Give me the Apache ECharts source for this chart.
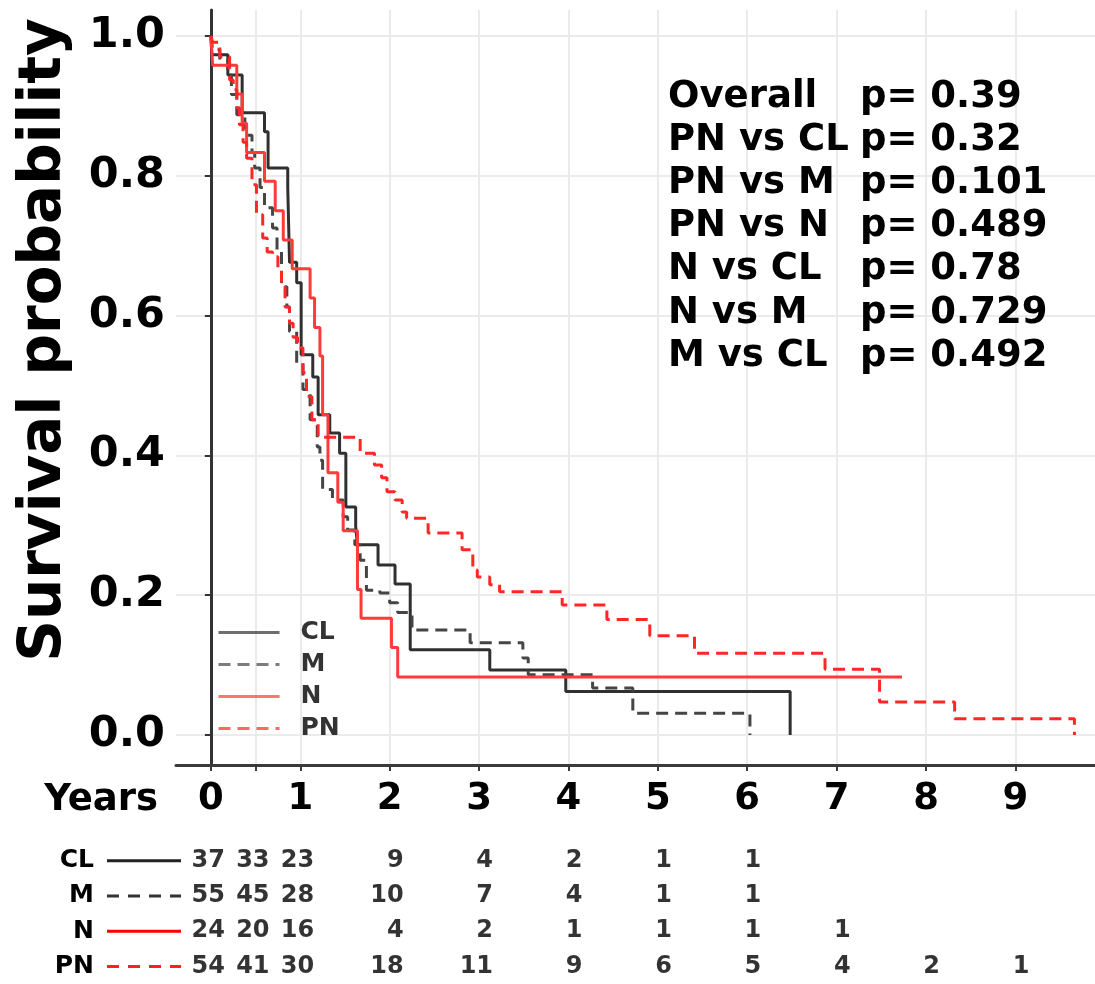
<!DOCTYPE html>
<html>
<head>
<meta charset="utf-8">
<script src="https://cdn.jsdelivr.net/npm/echarts@6/dist/echarts.min.js"></script>
<style>
html, body { margin: 0; padding: 0; background: #fff; }
#chart { width: 1095px; height: 984px; }
</style>
</head>
<body>
<div id="chart"></div>
<script>
// KM step points: time in years, survival after the step
var clTime = [0, 0.01, 0.19, 0.35, 0.60, 0.64, 0.86, 0.88, 0.96, 1.01, 1.14, 1.20, 1.33, 1.44, 1.51, 1.62, 1.64, 1.87, 2.06, 2.23, 3.12, 3.97, 6.48];
var clSurv = [1, 0.973, 0.944, 0.890, 0.863, 0.811, 0.783, 0.676, 0.647, 0.544, 0.512, 0.458, 0.432, 0.403, 0.326, 0.298, 0.272, 0.243, 0.216, 0.122, 0.093, 0.062, 0];

var mTime = [0, 0.02, 0.10, 0.19, 0.23, 0.29, 0.38, 0.46, 0.49, 0.55, 0.60, 0.69, 0.74, 0.79, 0.85, 0.88, 0.96, 1.03, 1.11, 1.19, 1.22, 1.25, 1.36, 1.48, 1.53, 1.61, 1.67, 1.74, 1.89, 2.00, 2.09, 2.25, 2.90, 3.49, 3.55, 4.27, 4.72, 6.03];
var mSurv = [1, 0.980, 0.966, 0.944, 0.916, 0.887, 0.858, 0.833, 0.811, 0.783, 0.754, 0.725, 0.691, 0.641, 0.612, 0.577, 0.532, 0.494, 0.451, 0.412, 0.393, 0.351, 0.336, 0.312, 0.293, 0.272, 0.250, 0.207, 0.203, 0.189, 0.175, 0.150, 0.132, 0.110, 0.086, 0.067, 0.031, 0];

var nTime = [0, 0.02, 0.29, 0.35, 0.40, 0.60, 0.72, 0.81, 0.91, 1.11, 1.16, 1.22, 1.25, 1.31, 1.42, 1.48, 1.64, 1.68, 2.02, 2.09, 7.73];
var nSurv = [1, 0.958, 0.917, 0.875, 0.833, 0.792, 0.750, 0.708, 0.667, 0.625, 0.583, 0.542, 0.458, 0.375, 0.333, 0.292, 0.208, 0.167, 0.125, 0.083, 0.083];

var pnTime = [0, 0.02, 0.10, 0.21, 0.25, 0.29, 0.32, 0.36, 0.40, 0.46, 0.51, 0.58, 0.63, 0.69, 0.75, 0.79, 0.83, 0.88, 0.92, 0.97, 1.03, 1.07, 1.13, 1.20, 1.67, 1.83, 1.91, 1.97, 2.06, 2.14, 2.19, 2.43, 2.81, 2.93, 2.98, 3.12, 3.23, 3.93, 4.43, 4.91, 5.41, 6.87, 7.48, 8.32, 9.66];
var pnSurv = [1, 0.991, 0.970, 0.937, 0.923, 0.897, 0.873, 0.848, 0.825, 0.787, 0.744, 0.711, 0.691, 0.684, 0.665, 0.648, 0.612, 0.589, 0.569, 0.554, 0.518, 0.484, 0.451, 0.426, 0.403, 0.386, 0.368, 0.348, 0.336, 0.319, 0.310, 0.289, 0.265, 0.236, 0.226, 0.215, 0.205, 0.186, 0.165, 0.142, 0.117, 0.094, 0.047, 0.023, 0];

// number at risk table
var riskTimes = [0, 0.5, 1, 2, 3, 4, 5, 6, 7, 8, 9];
var riskCL = [37, 33, 23, 9, 4, 2, 1, 1, null, null, null];
var riskM = [55, 45, 28, 10, 7, 4, 1, 1, null, null, null];
var riskN = [24, 20, 16, 4, 2, 1, 1, 1, 1, null, null];
var riskPN = [54, 41, 30, 18, 11, 9, 6, 5, 4, 2, 1];

var xTicks = [0, 0.5, 1, 2, 3, 4, 5, 6, 7, 8, 9];
var xLabels = [0, 1, 2, 3, 4, 5, 6, 7, 8, 9];
var yTicks = [0, 0.2, 0.4, 0.6, 0.8, 1.0];

var comparisons = ['Overall', 'PN vs CL', 'PN vs M', 'PN vs N', 'N vs CL', 'N vs M', 'M vs CL'];
var pValues = ['0.39', '0.32', '0.101', '0.489', '0.78', '0.729', '0.492'];

var groups = ['CL', 'M', 'N', 'PN'];

var FONT = 'DejaVu Sans';
var colors = { CL: '#303030', M: '#454545', N: '#ff3a3a', PN: '#ff2626' };
var dashed = { CL: false, M: true, N: false, PN: true };
var curves = { CL: [clTime, clSurv], M: [mTime, mSurv], N: [nTime, nSurv], PN: [pnTime, pnSurv] };
var risks = { CL: riskCL, M: riskM, N: riskN, PN: riskPN };

function pairs(t, s) {
  return t.map(function (v, i) { return [v, s[i]]; });
}

var riskData = [];
groups.forEach(function (g) {
  risks[g].forEach(function (v, i) {
    if (v != null) riskData.push([riskTimes[i], g, v]);
  });
});

var xMin = -0.39, xMax = 9.89;

var chart = echarts.init(document.getElementById('chart'));

var series = groups.map(function (g) {
  return {
    name: g,
    type: 'line',
    step: 'end',
    xAxisIndex: 0,
    yAxisIndex: 0,
    symbol: 'none',
    showSymbol: false,
    data: pairs(curves[g][0], curves[g][1]),
    itemStyle: { color: colors[g] },
    lineStyle: { color: colors[g], width: 3, type: dashed[g] ? [12, 7] : 'solid' }
  };
});

series.push({
  name: 'atRisk',
  type: 'scatter',
  xAxisIndex: 1,
  yAxisIndex: 1,
  symbolSize: 0,
  data: riskData,
  label: {
    show: true,
    position: 'inside',
    align: 'right',
    offset: [14, 0],
    formatter: function (p) { return p.value[2]; },
    fontFamily: FONT,
    fontWeight: 'bold',
    fontSize: 24,
    color: '#000'
  }
});

chart.setOption({
  animation: false,
  backgroundColor: '#fff',
  textStyle: { fontFamily: FONT },
  grid: [
    { left: 176, right: 0, top: 10, height: 755 },
    { left: 176, right: 0, top: 843, height: 152 }
  ],
  xAxis: [
    {
      type: 'value', gridIndex: 0, min: xMin, max: xMax,
      axisLine: { show: true, onZero: false, lineStyle: { color: '#3a3a3a', width: 3 } },
      axisTick: { show: true, length: 6, customValues: xTicks, lineStyle: { color: '#3a3a3a', width: 2 } },
      axisLabel: {
        customValues: xLabels, margin: 16, color: '#000',
        fontFamily: FONT, fontWeight: 'bold', fontSize: 37
      },
      splitLine: { show: true, lineStyle: { color: '#ebebeb', width: 2 } }
    },
    {
      type: 'value', gridIndex: 1, min: xMin, max: xMax, show: false
    }
  ],
  yAxis: [
    {
      type: 'value', gridIndex: 0, min: -0.043, max: 1.037,
      axisLine: { show: true, lineStyle: { color: '#333', width: 3 } },
      axisTick: { show: true, length: 6, customValues: yTicks, lineStyle: { color: '#333', width: 2 } },
      axisLabel: {
        customValues: yTicks, margin: 11, color: '#000',
        fontFamily: FONT, fontWeight: 'bold', fontSize: 43,
        formatter: function (v) { return v.toFixed(1); }
      },
      splitLine: { show: true, lineStyle: { color: '#ebebeb', width: 2 } }
    },
    {
      type: 'category', gridIndex: 1, data: groups, inverse: true,
      axisLine: { show: false }, axisTick: { show: false }, splitLine: { show: false },
      axisLabel: { margin: 82, color: '#000', fontFamily: FONT, fontWeight: 'bold', fontSize: 25 }
    }
  ],
  legend: {
    data: groups,
    orient: 'vertical',
    left: 212,
    top: 615,
    itemWidth: 61,
    itemHeight: 24,
    itemGap: 7,
    itemStyle: { opacity: 0 },
    lineStyle: { opacity: 0.7, width: 3 },
    textStyle: {
      fontFamily: FONT, fontWeight: 'bold', fontSize: 25, lineHeight: 24,
      color: '#333', padding: [0, 0, 0, 16]
    }
  },
  series: series
});

// decorations: axis title, stats text and the line keys of the risk table
var graphics = [
  {
    type: 'text', x: 45, y: 340, rotation: Math.PI / 2,
    style: { text: 'Survival probability', font: 'bold 58px "DejaVu Sans"', fill: '#000', align: 'center', verticalAlign: 'middle' }
  },
  {
    type: 'text', x: 158, y: 800,
    style: { text: 'Years', font: 'bold 37px "DejaVu Sans"', fill: '#000', align: 'right', verticalAlign: 'middle' }
  }
];

comparisons.forEach(function (c, i) {
  var yy = 97 + i * 43.2;
  graphics.push({
    type: 'text', x: 668, y: yy,
    style: { text: c, font: 'bold 37px "DejaVu Sans"', fill: '#000', verticalAlign: 'middle' }
  });
  graphics.push({
    type: 'text', x: 860, y: yy,
    style: { text: 'p= ' + pValues[i], font: 'bold 37px "DejaVu Sans"', fill: '#000', verticalAlign: 'middle' }
  });
});

var keyColors = { CL: '#222', M: '#333', N: '#ff0000', PN: '#ff2020' };
groups.forEach(function (g) {
  var yy = chart.convertToPixel({ yAxisIndex: 1 }, g);
  graphics.push({
    type: 'line',
    shape: { x1: 107, y1: yy, x2: 181, y2: yy },
    style: { stroke: keyColors[g], lineWidth: 3, lineDash: dashed[g] ? [12, 9] : null }
  });
});

chart.setOption({ graphic: graphics });
</script>
</body>
</html>
